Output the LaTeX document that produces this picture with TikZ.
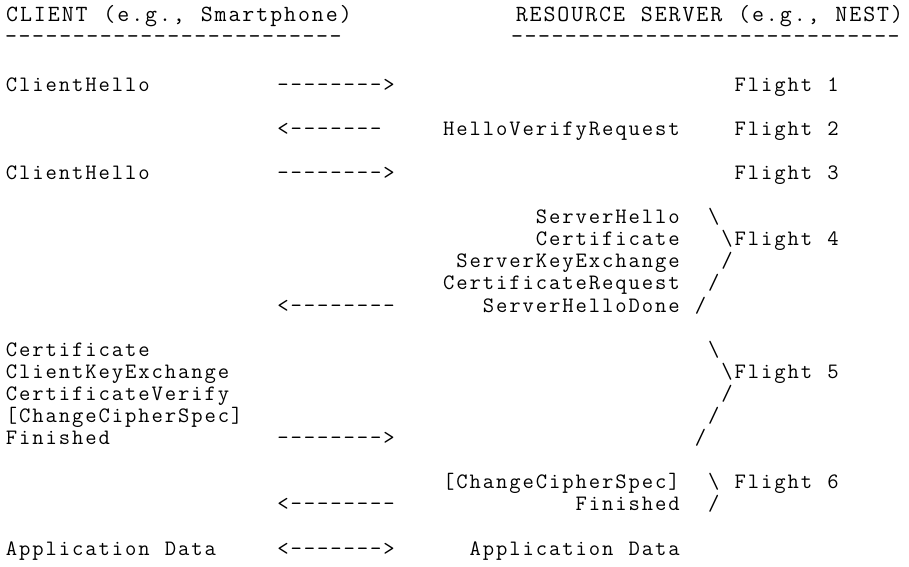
\documentclass[tikz,border=0pt]{standalone}
\usepackage{fontspec}
% Typewriter text set on a fixed character grid: every character sits
% centred in a cell of the given pitch (~ for a blank cell).
\makeatletter
\newcommand\gridtext[2]{\@tfor\gt@ch:=#2\do{\makebox[#1][c]{\gt@ch}}}
\makeatother
\newcommand\hdfont{\ttfamily\fontsize{23.2}{26}\selectfont}
\newcommand\bdfont{\ttfamily\fontsize{22}{22}\selectfont}
% message rows: origin, column pitch, first baseline, line pitch
\newcommand\gridx{4.7}
\newcommand\gridp{13.25}
\newcommand\gridy{91}
\newcommand\gridl{22.1}
% \gcell{name}{column}{row}{text}
\newcommand\gcell[4]{\node[body] (#1) at ({\gridx+\gridp*(#2)},{\gridy+\gridl*(#3)}) {\gridtext{\gridp pt}{#4}};}
\begin{document}
\begin{tikzpicture}[x=1pt,y=-1pt,
  body/.style={anchor=base west,inner sep=0pt,font=\bdfont},
  head/.style={anchor=base west,inner sep=0pt,font=\hdfont}]
\useasboundingbox (0,0) rectangle (909,566);

% column headers and their rules of dashes
\node[head] (cl) at (5.0,21.7) {\gridtext{13.9pt}{CLIENT~(e.g.,~Smartphone)}};
\node[head] (cld) at (4.2,43.7) {\gridtext{13.52pt}{-------------------------}};
\node[head] (sv) at (514.6,21.7) {\gridtext{13.9pt}{RESOURCE~SERVER~(e.g.,~NEST)}};
\node[head] (svd) at (510.2,43.7) {\gridtext{13.45pt}{-----------------------------}};

% Flight 1
\gcell{m1}{0}{0}{ClientHello}
\gcell{a1}{20.5}{0}{-------->}
\gcell{f1}{55}{0}{Flight~1}
% Flight 2
\gcell{a2}{20.5}{2}{<-------}
\gcell{m2}{33}{2}{HelloVerifyRequest}
\gcell{f2}{55}{2}{Flight~2}
% Flight 3
\gcell{m3}{0}{4}{ClientHello}
\gcell{a3}{20.5}{4}{-------->}
\gcell{f3}{55}{4}{Flight~3}
% Flight 4
\gcell{m4a}{40}{6}{ServerHello}
\gcell{b4a}{53}{6}{\textbackslash}
\gcell{m4b}{40}{7}{Certificate}
\gcell{f4}{54}{7}{\textbackslash Flight~4}
\gcell{m4c}{34}{8}{ServerKeyExchange}
\gcell{b4c}{54}{8}{/}
\gcell{m4d}{33}{9}{CertificateRequest}
\gcell{b4d}{53}{9}{/}
\gcell{a4}{20.5}{10}{<--------}
\gcell{m4e}{36}{10}{ServerHelloDone}
\gcell{b4e}{52}{10}{/}
% Flight 5
\gcell{m5a}{0}{12}{Certificate}
\gcell{b5a}{53}{12}{\textbackslash}
\gcell{m5b}{0}{13}{ClientKeyExchange}
\gcell{f5}{54}{13}{\textbackslash Flight~5}
\gcell{m5c}{0}{14}{CertificateVerify}
\gcell{b5c}{54}{14}{/}
\gcell{m5d}{0}{15}{[ChangeCipherSpec]}
\gcell{b5d}{53}{15}{/}
\gcell{m5e}{0}{16}{Finished}
\gcell{a5}{20.5}{16}{-------->}
\gcell{b5e}{52}{16}{/}
% Flight 6
\gcell{m6a}{33}{18}{[ChangeCipherSpec]}
\gcell{f6}{53}{18}{\textbackslash~Flight~6}
\gcell{a6}{20.5}{19}{<--------}
\gcell{m6b}{43}{19}{Finished}
\gcell{b6b}{53}{19}{/}
% application data in both directions
\gcell{d1}{0}{21}{Application~Data}
\gcell{a7}{20.5}{21}{<------->}
\gcell{d2}{35}{21}{Application~Data}
\end{tikzpicture}
\end{document}
